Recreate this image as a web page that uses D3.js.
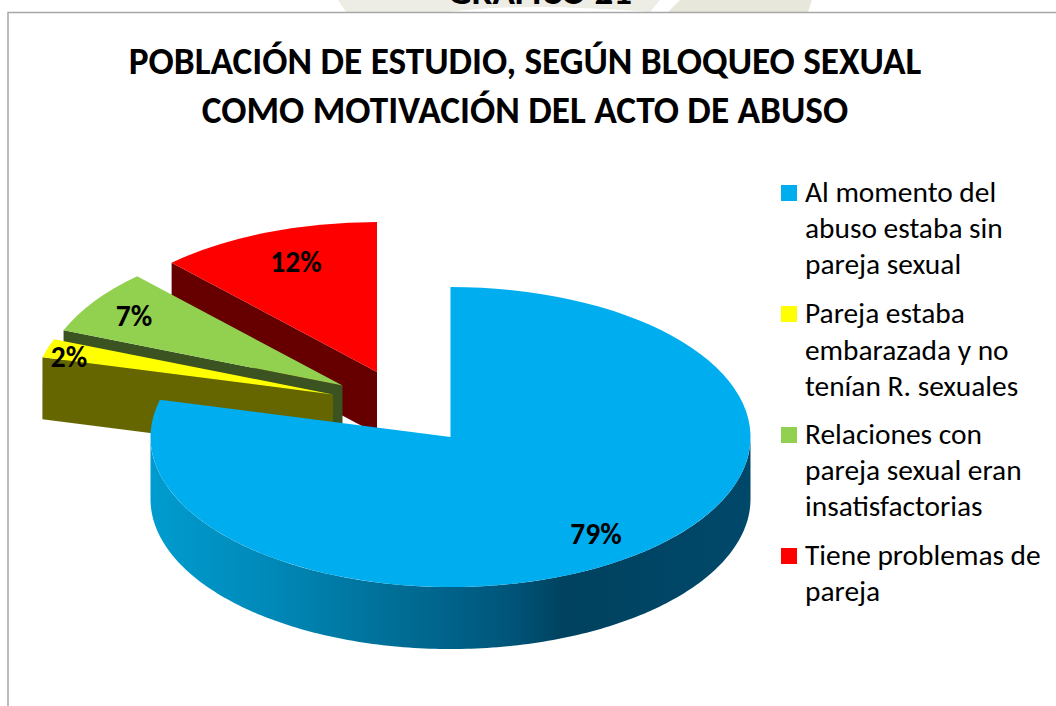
<!DOCTYPE html>
<html><head><meta charset="utf-8">
<script src="https://cdn.jsdelivr.net/npm/d3@7/dist/d3.min.js"></script>
<style>html,body{margin:0;padding:0;background:#fff;overflow:hidden}svg{display:block}text{font-family:Carlito,Lato,"Open Sans",sans-serif}</style>
</head><body><svg id="c" width="1056" height="706"></svg>
<script>
const categories = ["Al momento del abuso estaba sin pareja sexual","Pareja estaba embarazada y no tenían R. sexuales","Relaciones con pareja sexual eran insatisfactorias","Tiene problemas de pareja"];
const values = [79, 2, 7, 12];
const valueLabels = ["79%", "2%", "7%", "12%"];
const colors = ["#00aeef", "#ffff00", "#92d050", "#ff0000"];
const sideColors = ["#0099cc", "#666600", "#3b5320", "#660000"];
const legendLines = [["Al momento del","abuso estaba sin","pareja sexual"],["Pareja estaba","embarazada y no","tenían R. sexuales"],["Relaciones con","pareja sexual eran","insatisfactorias"],["Tiene problemas de","pareja"]];
const titleLines = ["POBLACIÓN DE ESTUDIO, SEGÚN BLOQUEO SEXUAL","COMO MOTIVACIÓN DEL ACTO DE ABUSO"];
const aboveText = "GRÁFICO 21";

// layout
const rx = 300, ry = 150, depth = 62;
const apex = [[450.5,437],[333,394.5],[342.5,385.5],[377,372]];
const labelPos = [[596,535],[69,358],[134,317],[296,263]];
const legendY = [[192,228,264],[313,350,386],[434,470,506],[555,591]];

const svg = d3.select("#c");
const defs = svg.append("defs");
const grad = defs.append("linearGradient").attr("id","wall").attr("gradientUnits","userSpaceOnUse")
  .attr("x1",150).attr("x2",750).attr("y1",0).attr("y2",0);
[[0,"#009ccf"],[0.2,"#0089b8"],[0.4,"#006f98"],[0.6,"#00557a"],[0.69,"#00425f"],[1,"#00486a"]]
  .forEach(s=>grad.append("stop").attr("offset",s[0]).attr("stop-color",s[1]));

// faint page background behind the chart frame
svg.append("rect").attr("width",1056).attr("height",706).attr("fill","#fff");
svg.append("path").attr("d","M338,0L346,12L450,12Q520,2 650,12L660,0Z").attr("fill","#ededE6");
svg.append("path").attr("d","M668,12L680,0L812,0L808,12Z").attr("fill","#e7e7dc");
svg.append("text").attr("x",540).attr("y",4).attr("text-anchor","middle").attr("font-size",37).attr("font-weight",700).text(aboveText);
svg.append("rect").attr("x",0).attr("y",12).attr("width",1056).attr("height",694).attr("fill","#fff");
svg.append("path").attr("d","M8,706V12.5H1056").attr("fill","none").attr("stroke","#a6a6a6").attr("stroke-width",1.5);

svg.selectAll("text.title").data(titleLines).join("text").attr("class","title")
  .attr("x",525).attr("y",(d,i)=>74+i*49).attr("text-anchor","middle")
  .attr("font-size",37.3).attr("font-weight",700).attr("fill","#000").text(d=>d);

const pie = d3.pie().sort(null).startAngle(0).endAngle(2*Math.PI)(values);
const arc = d3.arc().innerRadius(0).outerRadius(rx);
const px = (a,i,dy=0)=>[apex[i][0]+rx*Math.sin(a), apex[i][1]-ry*Math.cos(a)+dy];

// back to front: red, green, yellow, blue
[3,2,1,0].forEach(i=>{
  const p = pie[i];
  const g = svg.append("g");
  if(i===0){
    const aa = d3.range(0,181).map(k=>Math.PI/2+k*Math.PI/180);
    const top = aa.map(a=>px(a,i));
    const bot = aa.map(a=>px(a,i,depth)).reverse();
    g.append("path").attr("d",d3.line()(top.concat(bot))+"Z").attr("fill","url(#wall)");
  } else {
    const a = p.startAngle;
    const pts = [px(a,i),apex[i],[apex[i][0],apex[i][1]+depth],px(a,i,depth)];
    g.append("path").attr("d",d3.line()(pts)+"Z").attr("fill",sideColors[i]);
  }
  g.append("path").attr("d",arc(p))
    .attr("transform",`translate(${apex[i][0]},${apex[i][1]}) scale(1,${ry/rx})`)
    .attr("fill",colors[i]);
});

svg.selectAll("text.val").data(valueLabels).join("text").attr("class","val")
  .attr("x",(d,i)=>labelPos[i][0]).attr("y",(d,i)=>labelPos[i][1]+9).attr("text-anchor","middle")
  .attr("font-size",29.5).attr("font-weight",700).attr("fill","#000").text(d=>d);

const lg = svg.selectAll("g.lg").data(categories).join("g").attr("class","lg");
lg.append("rect").attr("x",781).attr("y",(d,i)=>legendY[i][0]-7).attr("width",16).attr("height",16).attr("fill",(d,i)=>colors[i]);
lg.each(function(d,i){
  d3.select(this).selectAll("text").data(legendLines[i]).join("text")
    .attr("x",805).attr("y",(t,j)=>legendY[i][j]+9.5).attr("font-size",29.4).attr("fill","#000").text(t=>t);
});
</script></body></html>
